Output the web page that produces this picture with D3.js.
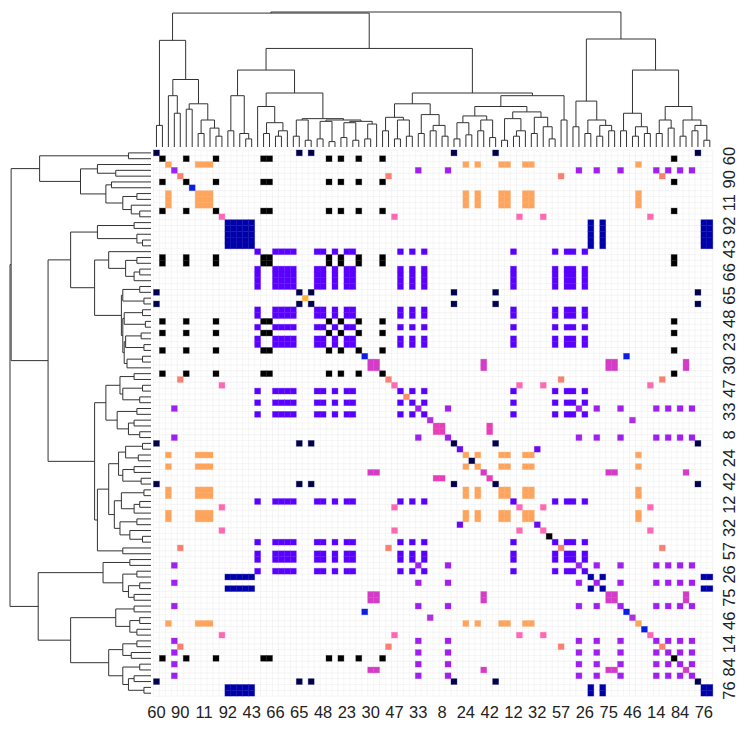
<!DOCTYPE html>
<html><head><meta charset="utf-8">
<script src="https://cdn.jsdelivr.net/npm/d3@7"></script>
<style>body{margin:0;background:#fff}</style></head>
<body><svg id="c" width="748" height="730"></svg>
<script>
// ---------------- data ----------------
const nItems = 94;
// clusters: items of the same cluster are linked (cell coloured)
const clusterColors = ["#00004f","#000000","#ffa45c","#a020f0","#fa8072","#0a1ee6","#ff69b4","#0000aa","#5a00ff","#ffb040","#0a1ee6","#d43cc8","#ff8c69","#b02fe0","#e83fb8","#6a0af0","#00004f","#000000","#0a1ee6"];
const clusterMembers = [
  [0,24,26,50,57,91],
  [1,5,10,18,19,29,31,34,38,87],
  [2,7,8,9,52,54,58,59,62,63,81],
  [3,44,49,71,74,78,84,86,88,90],
  [4,39,68,85],
  [6],
  [11,40,61,65,83],
  [12,13,14,15,16,73,75,92,93],
  [17,20,21,22,23,27,28,30,32,33,41,43,45,60,67,69,70,72],
  [25],
  [35,79],
  [36,37,55,76,77,89],
  [42],
  [46,80],
  [47,48,56],
  [51,64],
  [53],
  [66],
  [82]
];
const tickIndex = [0,4,8,12,16,20,24,28,32,36,40,44,48,52,56,60,64,68,72,76,80,84,88,92];
const tickLabels = ["60","90","11","92","43","66","65","48","23","30","47","33","8","24","42","12","32","57","26","75","46","14","84","76"];
// dendrogram (same tree for rows and columns): [height, child, child]; numbers are leaf positions
const tree =
[100,
  [99.2,
    [79, [16,0,1], [50, [38,2,[25,3,4]], [32,[28,5,6],[20,[10,7,8],[14,9,[8,10,11]]]]]],
    [73,
      [57,
        [38,[12,12,13],[10,14,[6,15,16]]],
        [40,
          [30,17,[18,[10,18,19],[12,[8,20,21],22]]],
          [21,[20,[8,23,24],[5,25,26]],[20,[19,[6,27,28],[4,29,30]],[19,[18,[7,31,32],[5,33,34]],[17,[6,35,36],37]]]]
        ]
      ],
      [40,
        [32,[22,[12,38,39],[20,[6,40,41],[8,42,43]]],[24,[10,44,45],[16,[12,46,47],[8,48,49]]]],
        [38,
          [30,[23,[18,[6,50,51],[9,52,53]],[20,[12,54,55],[7,56,57]]],[26,[21,[5,58,59],[12,[8,60,61],62]],[22,[10,63,64],[15,65,[6,66,67]]]]],
          [20,68,69]
        ]
      ]
    ]
  ],
  [80,
    [34,[15,70,71],[20,[10,72,73],[16,[8,74,75],[12,76,77]]]],
    [57,[25,[12,78,79],[15,[8,80,81],[10,82,83]]],[30,[20,[10,84,85],[14,86,87]],[20,[8,88,89],[16,[12,90,91],[5,92,93]]]]]
  ]
];

// ---------------- drawing ----------------
const svg = d3.select("#c");
svg.append("rect").attr("width",748).attr("height",730).attr("fill","#fff");

const x = d3.scaleBand().domain(d3.range(nItems)).range([153.5, 712.8]);
const y = d3.scaleBand().domain(d3.range(nItems)).range([150, 696.1]);

// faint grid
const grid = svg.append("g").attr("stroke","#eeeeee").attr("stroke-width",0.6);
d3.range(nItems+1).forEach(i=>{
  const xv = i<nItems ? x(i) : x(nItems-1)+x.bandwidth();
  const yv = i<nItems ? y(i) : y(nItems-1)+y.bandwidth();
  grid.append("line").attr("x1",xv).attr("x2",xv).attr("y1",150).attr("y2",696.1);
  grid.append("line").attr("y1",yv).attr("y2",yv).attr("x1",153.5).attr("x2",712.8);
});

// cells
const cells = [];
clusterMembers.forEach((m,k)=>{
  m.forEach(r=>m.forEach(c=>cells.push({r,c,col:clusterColors[k]})));
});
svg.append("g").selectAll("rect").data(cells).join("rect")
  .attr("x",d=>x(d.c)).attr("y",d=>y(d.r))
  .attr("width",x.bandwidth()).attr("height",y.bandwidth())
  .attr("fill",d=>d.col).attr("stroke",d=>d.col).attr("stroke-opacity",0.35).attr("stroke-width",0.8);

// labels
const font = "'Liberation Sans', Arial, Helvetica, sans-serif";
svg.append("g").selectAll("text").data(tickIndex).join("text")
  .attr("x",d=>x(d)+x.bandwidth()/2).attr("y",717.5)
  .attr("text-anchor","middle").attr("font-family",font).attr("font-size",16.5).attr("fill","#222")
  .text((d,i)=>tickLabels[i]);
svg.append("g").selectAll("text").data(tickIndex).join("text")
  .attr("transform",d=>`translate(734.5,${y(d)+y.bandwidth()/2+3.2}) rotate(-90)`)
  .attr("text-anchor","middle").attr("font-family",font).attr("font-size",16.5).attr("fill","#222")
  .text((d,i)=>tickLabels[i]);

// dendrograms
const hOf = nd => Array.isArray(nd) ? nd[0] : 0;
const maxH = tree[0];
function drawDendro(g, posScale, hScale, horizontalTop){
  function walk(nd){
    if(!Array.isArray(nd)) return posScale(nd)+posScale.bandwidth()/2;
    const kids = nd.slice(1);
    const ps = kids.map(walk);
    const hN = hScale(nd[0]);
    const p0 = ps[0], p1 = ps[ps.length-1];
    if(horizontalTop){
      g.append("line").attr("x1",p0).attr("x2",p1).attr("y1",hN).attr("y2",hN);
      kids.forEach((k,j)=>g.append("line").attr("x1",ps[j]).attr("x2",ps[j]).attr("y1",hN).attr("y2",hScale(hOf(k))));
    } else {
      g.append("line").attr("y1",p0).attr("y2",p1).attr("x1",hN).attr("x2",hN);
      kids.forEach((k,j)=>g.append("line").attr("y1",ps[j]).attr("y2",ps[j]).attr("x1",hN).attr("x2",hScale(hOf(k))));
    }
    return (p0+p1)/2;
  }
  walk(tree);
}
const gTop = svg.append("g").attr("stroke","#333").attr("stroke-width",1).attr("fill","none");
drawDendro(gTop, x, d3.scaleLinear().domain([0,maxH]).range([147,12]), true);
const gLeft = svg.append("g").attr("stroke","#333").attr("stroke-width",1).attr("fill","none");
drawDendro(gLeft, y, d3.scaleLinear().domain([0,maxH]).range([151,10]), false);
</script></body></html>
